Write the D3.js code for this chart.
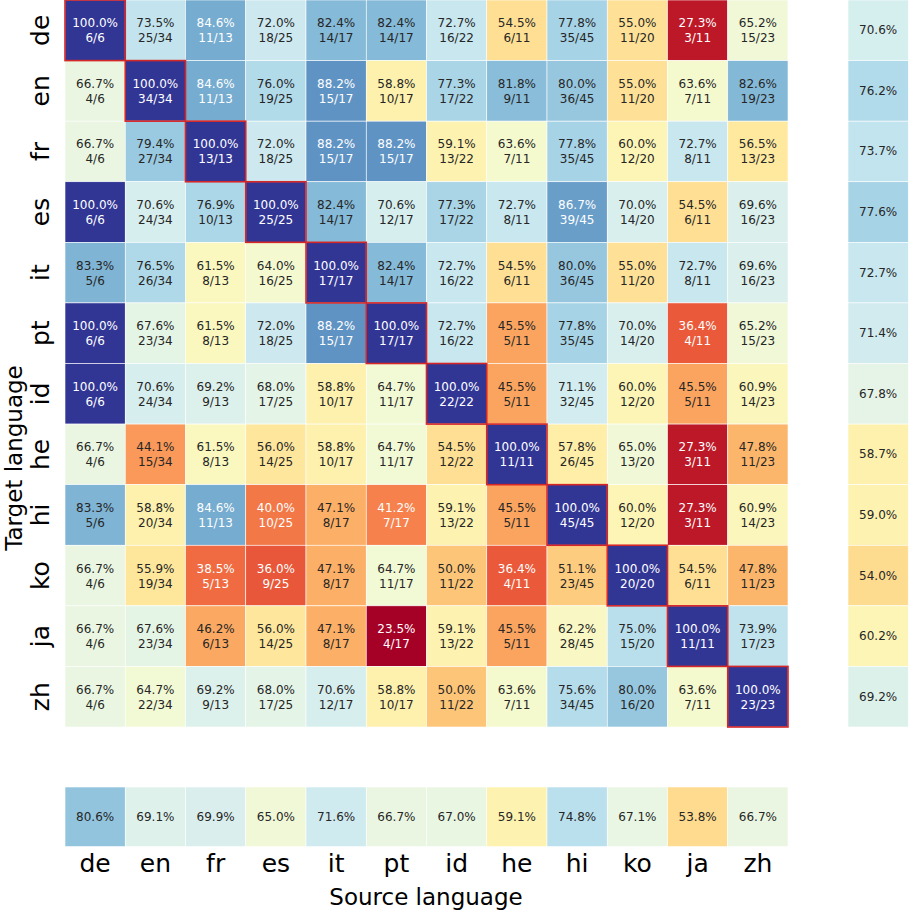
<!DOCTYPE html>
<html><head><meta charset="utf-8">
<script src="https://cdn.jsdelivr.net/npm/d3@7"></script>
<style>body{margin:0;background:#fff}text{font-family:"DejaVu Sans",sans-serif}</style>
</head><body><svg id="c" width="914" height="915"></svg>
<script>
var langs = ['de','en','fr','es','it','pt','id','he','hi','ko','ja','zh'];
var denoms = [6,34,13,25,17,17,22,11,45,20,11,23];
var hits = [
  [6,25,11,18,14,14,16,6,35,11,3,15],
  [4,34,11,19,15,10,17,9,36,11,7,19],
  [4,27,13,18,15,15,13,7,35,12,8,13],
  [6,24,10,25,14,12,17,8,39,14,6,16],
  [5,26,8,16,17,14,16,6,36,11,8,16],
  [6,23,8,18,15,17,16,5,35,14,4,15],
  [6,24,9,17,10,11,22,5,32,12,5,14],
  [4,15,8,14,10,11,12,11,26,13,3,11],
  [5,20,11,10,8,7,13,5,45,12,3,14],
  [4,19,5,9,8,11,11,4,23,20,6,11],
  [4,23,6,14,8,4,13,5,28,15,11,17],
  [4,22,9,17,12,10,11,7,34,16,7,23]
];
var rowMeans = [70.6,76.2,73.7,77.6,72.7,71.4,67.8,58.7,59.0,54.0,60.2,69.2];
var colMeans = [80.6,69.1,69.9,65.0,71.6,66.7,67.0,59.1,74.8,67.1,53.8,66.7];

var svg = d3.select('#c');
var x = d3.scaleBand().domain(langs).range([65, 788]);
var y = d3.scaleBand().domain(langs).range([0, 727]);
var tcol = d3.scaleLinear().domain([0.235, 1]).range([0, 1]).clamp(true);
function color(v) { return d3.interpolateRdYlBu(tcol(v)); }
function textColor(c) {
  var r = d3.rgb(c);
  var l = [r.r, r.g, r.b].map(function(u) { u /= 255; return u <= 0.03928 ? u / 12.92 : Math.pow((u + 0.055) / 1.055, 2.4); });
  return (0.2126 * l[0] + 0.7152 * l[1] + 0.0722 * l[2]) < 0.408 ? '#fff' : '#262626';
}

var cells = [];
hits.forEach(function(row, i) {
  row.forEach(function(n, j) {
    cells.push({r: langs[i], c: langs[j], n: n, d: denoms[j], v: n / denoms[j]});
  });
});

var g = svg.append('g');
var cg = g.selectAll('g.cell').data(cells).enter().append('g');
cg.append('rect')
  .attr('x', function(d) { return x(d.c); }).attr('y', function(d) { return y(d.r); })
  .attr('width', x.bandwidth()).attr('height', y.bandwidth())
  .attr('fill', function(d) { return color(d.v); })
  .attr('stroke', '#fff').attr('stroke-width', 0.6);
cg.append('text')
  .attr('x', function(d) { return x(d.c) + x.bandwidth() / 2; })
  .attr('y', function(d) { return y(d.r) + y.bandwidth() / 2 - 3; })
  .attr('text-anchor', 'middle').attr('font-size', 12)
  .attr('fill', function(d) { return textColor(color(d.v)); })
  .text(function(d) { return (d.v * 100).toFixed(1) + '%'; });
cg.append('text')
  .attr('x', function(d) { return x(d.c) + x.bandwidth() / 2; })
  .attr('y', function(d) { return y(d.r) + y.bandwidth() / 2 + 12; })
  .attr('text-anchor', 'middle').attr('font-size', 12)
  .attr('fill', function(d) { return textColor(color(d.v)); })
  .text(function(d) { return d.n + '/' + d.d; });

// diagonal highlight
g.selectAll('rect.diag').data(langs).enter().append('rect')
  .attr('x', function(d) { return x(d); }).attr('y', function(d) { return y(d); })
  .attr('width', x.bandwidth()).attr('height', y.bandwidth())
  .attr('fill', 'none').attr('stroke', '#d62728').attr('stroke-width', 1.6);

// right column: per-target mean
var rx = 848, rw = x.bandwidth();
var rg = svg.selectAll('g.rm').data(rowMeans).enter().append('g');
rg.append('rect').attr('x', rx).attr('y', function(d, i) { return y(langs[i]); })
  .attr('width', rw).attr('height', y.bandwidth())
  .attr('fill', function(d) { return color(d / 100); }).attr('stroke', '#fff').attr('stroke-width', 0.6);
rg.append('text').attr('x', rx + rw / 2).attr('y', function(d, i) { return y(langs[i]) + y.bandwidth() / 2 + 4; })
  .attr('text-anchor', 'middle').attr('font-size', 12).attr('fill', '#262626')
  .text(function(d) { return d.toFixed(1) + '%'; });

// bottom row: per-source mean
var by = 787, bh = y.bandwidth() - 1;
var bg = svg.selectAll('g.cm').data(colMeans).enter().append('g');
bg.append('rect').attr('x', function(d, i) { return x(langs[i]); }).attr('y', by)
  .attr('width', x.bandwidth()).attr('height', bh)
  .attr('fill', function(d) { return color(d / 100); }).attr('stroke', '#fff').attr('stroke-width', 0.6);
bg.append('text').attr('x', function(d, i) { return x(langs[i]) + x.bandwidth() / 2; }).attr('y', by + bh / 2 + 4)
  .attr('text-anchor', 'middle').attr('font-size', 12).attr('fill', '#262626')
  .text(function(d) { return d.toFixed(1) + '%'; });

// tick labels
svg.selectAll('text.xt').data(langs).enter().append('text')
  .attr('x', function(d) { return x(d) + x.bandwidth() / 2; }).attr('y', 872)
  .attr('text-anchor', 'middle').attr('font-size', 25).attr('fill', '#000').text(function(d) { return d; });
svg.selectAll('text.yt').data(langs).enter().append('text')
  .attr('transform', function(d) { return 'translate(49,' + (y(d) + y.bandwidth() / 2) + ') rotate(-90)'; })
  .attr('text-anchor', 'middle').attr('font-size', 25).attr('fill', '#000').text(function(d) { return d; });

svg.append('text').attr('x', 426).attr('y', 905).attr('text-anchor', 'middle')
  .attr('font-size', 23).text('Source language');
svg.append('text').attr('transform', 'translate(22,458) rotate(-90)').attr('text-anchor', 'middle')
  .attr('font-size', 23).text('Target language');
</script></body></html>
